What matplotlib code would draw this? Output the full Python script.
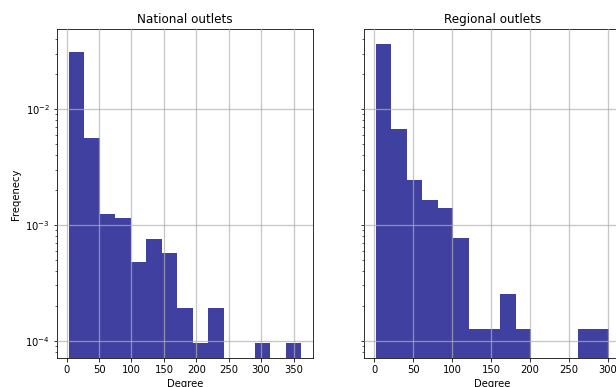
import numpy as np
import matplotlib
matplotlib.use("Agg")
import matplotlib.pyplot as plt

plt.rcParams["font.family"] = ["DejaVu Sans"]
plt.rcParams["font.size"] = 10

# Degree histograms (15 equal-width bins each), stored as bin counts
national_range = (3, 362)
national_counts = [330, 59, 13, 12, 5, 8, 6, 2, 1, 2, 0, 0, 1, 0, 1]

regional_range = (2, 301)
regional_counts = [285, 53, 19, 13, 11, 6, 1, 1, 2, 1, 0, 0, 0, 1, 1]

titles = ["National outlets", "Regional outlets"]


def draw_hist(ax, counts, value_range, title):
    edges = np.linspace(value_range[0], value_range[1], len(counts) + 1)
    centers = 0.5 * (edges[:-1] + edges[1:])
    ax.hist(centers, bins=edges, weights=counts, density=True,
            color="navy", alpha=0.75, log=True)
    ax.set_title(title)
    ax.set_xlabel("Degree")
    ax.grid(True, color="#b0b0b0", alpha=0.7, linewidth=1.3)
    ax.set_axisbelow(False)


fig = plt.figure(figsize=(616 / 72, 387 / 72), dpi=72)
ax1 = fig.add_axes([0.0925, 0.074, 0.4155, 0.850])
ax2 = fig.add_axes([0.5914, 0.074, 0.4155, 0.850], sharey=ax1)

draw_hist(ax1, national_counts, national_range, titles[0])
draw_hist(ax2, regional_counts, regional_range, titles[1])

ax1.set_ylabel("Freqenecy")
ax1.set_ylim(7.04e-5, 0.0488)
ax1.set_xticks([0, 50, 100, 150, 200, 250, 300, 350])
ax2.set_xticks([0, 50, 100, 150, 200, 250, 300])
plt.setp(ax2.get_yticklabels(), visible=False)

fig.savefig("out.png", dpi=72)
